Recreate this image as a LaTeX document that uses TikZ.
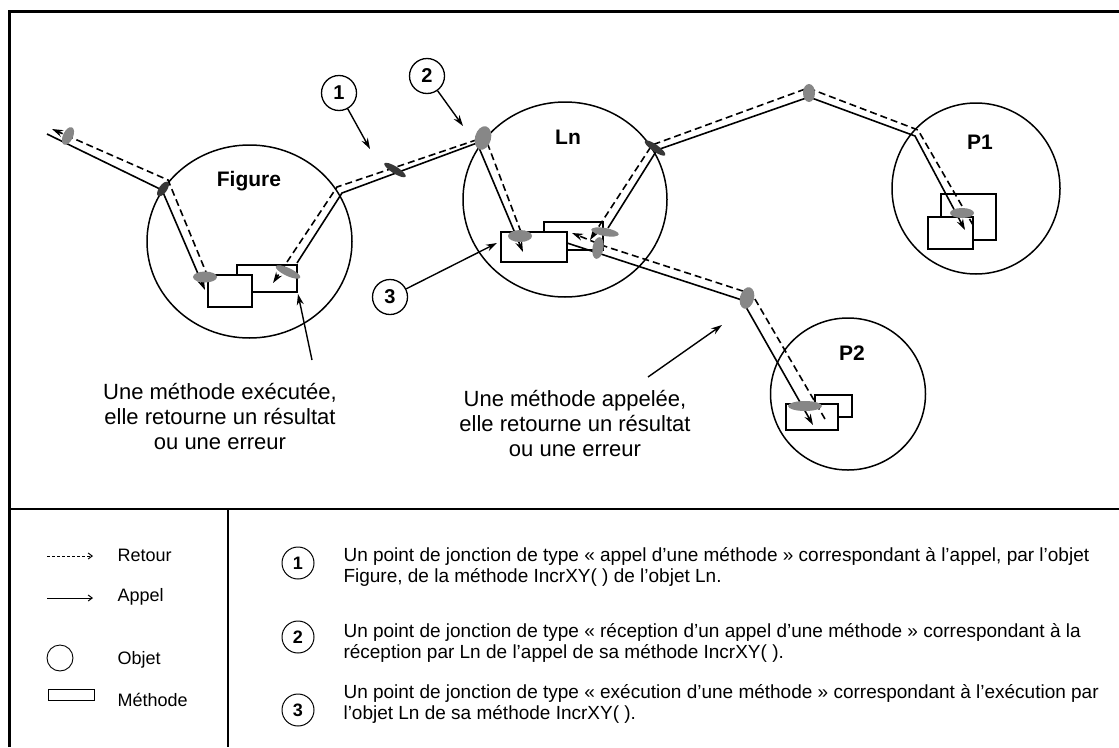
\documentclass[tikz,border=0pt]{standalone}
\usepackage{fontspec}
\setmainfont{Liberation Sans}
\usetikzlibrary{arrows.meta,shapes.geometric}
\definecolor{jgray}{RGB}{135,135,135}
\definecolor{jdark}{RGB}{55,55,55}
\tikzset{
  obj/.style={draw, line width=1.5pt},
  meth/.style={draw, fill=white, line width=1.4pt, inner sep=0pt},
  call/.style={line width=1.6pt, -{Stealth[length=11pt,width=7pt]}},
  ret/.style={line width=1.6pt, dash pattern=on 7pt off 4pt, -{Stealth[length=11pt,width=7pt]}},
  jg/.style={ellipse, fill=jgray, inner sep=0pt},
  jd/.style={ellipse, fill=jdark, inner sep=0pt},
  lab/.style={font=\fontsize{21}{24}\selectfont\bfseries},
  callout/.style={circle, draw, line width=1.3pt, minimum size=35pt, inner sep=0pt, font=\fontsize{20}{22}\selectfont\bfseries},
  pointer/.style={line width=1.4pt, -{Stealth[length=11pt,width=7pt]}},
  note/.style={align=center, font=\fontsize{22}{25}\selectfont},
  legl/.style={anchor=west, font=\fontsize{18}{21}\selectfont},
  legt/.style={anchor=west, align=left, font=\fontsize{19}{21}\selectfont},
  legnum/.style={circle, draw, line width=1pt, minimum size=32pt, inner sep=0pt, font=\fontsize{18}{20}\selectfont\bfseries},
}
\begin{document}
\begin{tikzpicture}[x=1pt,y=-1pt]
\useasboundingbox (0,0) rectangle (1119,747);
% frame
\draw[line width=3pt] (9,747) -- (9,11) -- (1119,11);
\draw[line width=1.3pt] (9,509) -- (1119,509);
\draw[line width=1.3pt] (228,509) -- (228,747);

% objects
\node[obj, ellipse, minimum width=205pt, minimum height=193pt, inner sep=0pt] (fig) at (249.5,241.5) {};
\node[obj, ellipse, minimum width=204pt, minimum height=195pt, inner sep=0pt] (ln) at (565,199.5) {};
\node[obj, ellipse, minimum width=168pt, minimum height=171pt, inner sep=0pt] (p1) at (976,188.5) {};
\node[obj, ellipse, minimum width=155pt, minimum height=152pt, inner sep=0pt] (p2) at (848,394) {};
\node[lab] (figl) at (249,181) {Figure};
\node[lab] (lnl) at (568,137) {Ln};
\node[lab] (p1l) at (980,142) {P1};
\node[lab] (p2l) at (852,353) {P2};

% methods (back then front)
\node[meth, minimum width=60pt, minimum height=27pt] (fmb) at (267,278.5) {};
\node[meth, minimum width=44pt, minimum height=32pt] (fmf) at (230,291) {};
\node[meth, minimum width=59pt, minimum height=28pt] (lmb) at (573.5,236) {};
\node[meth, minimum width=66pt, minimum height=30pt] (lmf) at (534,247) {};
\node[meth, minimum width=55pt, minimum height=46pt] (pmb) at (968.5,217) {};
\node[meth, minimum width=45pt, minimum height=32pt] (pmf) at (950.5,233) {};
\node[meth, minimum width=37pt, minimum height=22pt] (qmb) at (833.5,406) {};
\node[meth, minimum width=52pt, minimum height=26pt] (qmf) at (812,417) {};

% path coordinates
\coordinate (a0) at (47,134);
\coordinate (a1) at (162,190);
\coordinate (a2) at (205,290);
\coordinate (b0) at (208,277);
\coordinate (b1) at (168,180);
\coordinate (b2) at (52,129);
\coordinate (c0) at (297,263);
\coordinate (c1) at (342,193);
\coordinate (c2) at (477,143);
\coordinate (c3) at (523,252);
\coordinate (d0) at (521,232);
\coordinate (d1) at (485,137);
\coordinate (d2) at (337,187);
\coordinate (d3) at (273,283);
\coordinate (e0) at (608,228);
\coordinate (e1) at (657,150);
\coordinate (e2) at (809,97);
\coordinate (e3) at (915,136);
\coordinate (e4) at (965,230);
\coordinate (f0) at (973,225);
\coordinate (f1) at (918,130);
\coordinate (f2) at (808,88);
\coordinate (f3) at (652,145);
\coordinate (f4) at (590,240);
\coordinate (g0) at (567,243);
\coordinate (g1) at (742,300);
\coordinate (g2) at (813,425);
\coordinate (h0) at (825,419);
\coordinate (h1) at (752,294);
\coordinate (h2) at (604,246);
\coordinate (h3) at (572,233);

\draw[call] (a0) -- (a1) -- (a2);
\draw[ret] (b0) -- (b1) -- (b2);
\draw[call] (c0) -- (c1) -- (c2) -- (c3);
\draw[ret] (d0) -- (d1) -- (d2) -- (d3);
\draw[call] (e0) -- (e1) -- (e2) -- (e3) -- (e4);
\draw[ret] (f0) -- (f1) -- (f2) -- (f3) -- (f4);
\draw[call] (g0) -- (g1) -- (g2);
\draw[ret] (h0) -- (h1) -- (h2) -- (h3);

% junction points
\node[jg, minimum width=19pt, minimum height=10pt, rotate=65] (j1) at (68,136) {};
\node[jd, minimum width=17pt, minimum height=8pt, rotate=55] (j2) at (163,189) {};
\node[jg, minimum width=24pt, minimum height=11pt] (j3) at (205,277) {};
\node[jg, minimum width=27pt, minimum height=8pt, rotate=-25] (j4) at (288,272) {};
\node[jd, minimum width=25pt, minimum height=7pt, rotate=-32] (j5) at (395,170) {};
\node[jg, minimum width=24pt, minimum height=16pt, rotate=75] (j6) at (483,138) {};
\node[jg, minimum width=24pt, minimum height=12pt] (j7) at (520,236) {};
\node[jg, minimum width=28pt, minimum height=8pt, rotate=-10] (j8) at (605,232) {};
\node[jg, minimum width=22pt, minimum height=11pt, rotate=80] (j9) at (598,248) {};
\node[jd, minimum width=25pt, minimum height=7pt, rotate=-35] (j10) at (655,148) {};
\node[jg, minimum width=18pt, minimum height=12pt, rotate=90] (j11) at (809,93) {};
\node[jg, minimum width=24pt, minimum height=10pt] (j12) at (962,213) {};
\node[jg, minimum width=22pt, minimum height=14pt, rotate=75] (j13) at (747,298) {};
\node[jg, minimum width=34pt, minimum height=10pt] (j14) at (805,406) {};

% callouts
\node[callout] (n1) at (339,93) {1};
\node[callout] (n2) at (427,76) {2};
\node[callout] (n3) at (390,297) {3};
\coordinate (n1t) at (370,149);
\coordinate (n2t) at (463,126);
\coordinate (n3t) at (497,243);
\draw[pointer] (n1) -- (n1t);
\draw[pointer] (n2) -- (n2t);
\draw[pointer] (n3) -- (n3t);

% notes
\node[note] (exe) at (220,417) {Une méthode exécutée,\\elle retourne un résultat\\ou une erreur};
\node[note] (app) at (575,424) {Une méthode appelée,\\elle retourne un résultat\\ou une erreur};
\coordinate (exeS) at (312,360);
\coordinate (exeT) at (298,294);
\coordinate (appS) at (648,377);
\coordinate (appT) at (722,325);
\draw[pointer] (exeS) -- (exeT);
\draw[pointer] (appS) -- (appT);

% legend left
\coordinate (r0) at (47,556);
\coordinate (r1) at (93,556);
\coordinate (s0) at (47,598);
\coordinate (s1) at (93,598);
\draw[line width=1pt, dash pattern=on 3pt off 2pt, -{Straight Barb[length=4pt,width=6pt]}] (r0) -- (r1);
\draw[line width=1pt, -{Straight Barb[length=4pt,width=6pt]}] (s0) -- (s1);
\node[circle, draw, line width=0.9pt, minimum size=26pt, inner sep=0pt] (lo) at (60,658) {};
\node[draw, line width=0.9pt, minimum width=46pt, minimum height=11pt, inner sep=0pt] (lm) at (71,694.5) {};
\node[legl] (lr) at (114,555) {Retour};
\node[legl] (la) at (114,597) {Appel};
\node[legl] (lob) at (114,660) {Objet};
\node[legl] (lme) at (114,700) {Méthode};

% legend right
\node[legnum] (m1) at (298,563) {1};
\node[legnum] (m2) at (298,637) {2};
\node[legnum] (m3) at (298,710) {3};
\node[legt] (t1) at (340,566.5) {Un point de jonction de type « appel d’une méthode » correspondant à l’appel, par l’objet\\Figure, de la méthode IncrXY( ) de l’objet Ln.};
\node[legt] (t2) at (340,642.5) {Un point de jonction de type « réception d’un appel d’une méthode » correspondant à la\\réception par Ln de l’appel de sa méthode IncrXY( ).};
\node[legt] (t3) at (340,704) {Un point de jonction de type « exécution d’une méthode » correspondant à l’exécution par\\l’objet Ln de sa méthode IncrXY( ).};
\end{tikzpicture}
\end{document}
